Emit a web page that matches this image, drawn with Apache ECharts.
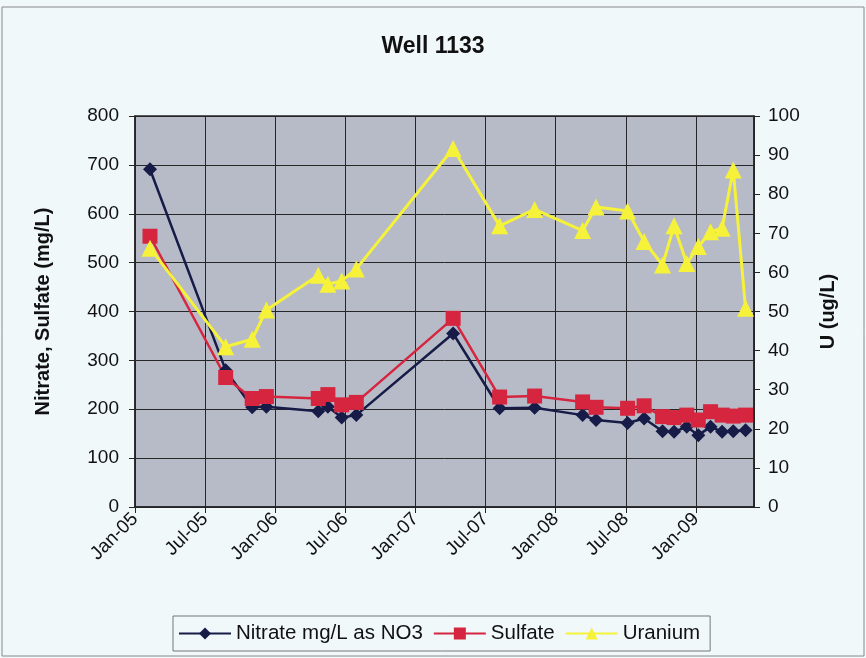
<!DOCTYPE html>
<html>
<head>
<meta charset="utf-8">
<script src="https://cdn.jsdelivr.net/npm/echarts@6/dist/echarts.min.js"></script>
<style>
  html, body { margin: 0; padding: 0; background: #f1f8fa; }
  #chart { width: 866px; height: 658px; }
</style>
</head>
<body>
<div id="chart"></div>
<script>
// Sampling dates for Well 1133
const sampleDates = [
  '2005-02-09', '2005-08-25', '2005-11-02', '2005-12-09', '2006-04-23',
  '2006-05-18', '2006-06-23', '2006-07-31', '2007-04-09', '2007-08-08',
  '2007-11-07', '2008-03-11', '2008-04-15', '2008-07-06', '2008-08-18',
  '2008-10-05', '2008-11-04', '2008-12-07', '2009-01-06', '2009-02-07',
  '2009-03-09', '2009-04-07', '2009-05-09'
];
// Nitrate, mg/L as NO3
const nitrate = [
  691, 280, 204, 205, 196, 205, 183, 188, 355, 202,
  203, 188, 178, 172, 181, 155, 154, 164, 147, 164,
  154, 155, 157
];
// Sulfate, mg/L
const sulfate = [
  554, 265, 222, 226, 222, 230, 209, 214, 386, 225,
  227, 215, 204, 202, 207, 185, 183, 188, 178, 195,
  188, 186, 188
];
// Uranium, ug/L (right axis)
const uranium = [
  66.2, 41.0, 42.9, 50.4, 59.3, 57.0, 57.8, 60.9, 91.7, 71.9,
  76.1, 70.7, 76.7, 75.7, 67.9, 61.9, 71.9, 62.3, 66.6, 70.4,
  71.3, 86.2, 50.8
];
const MONTHS = ['Jan','Feb','Mar','Apr','May','Jun','Jul','Aug','Sep','Oct','Nov','Dec'];
const axisStartDate = '2005-01-01';
const axisEndDate = '2009-05-31';

// The date axis is a value axis in days since the start date, ticked every half year
const DAY = 86400000;
const origin = Date.parse(axisStartDate + 'T00:00:00Z');
const toDay = s => (Date.parse(s + 'T00:00:00Z') - origin) / DAY;
const pairs = vals => sampleDates.map((d, i) => [toDay(d), vals[i]]);
const dateLabel = v => {
  const d = new Date(origin + (v + 15) * DAY);
  return MONTHS[d.getUTCMonth()] + '-' + String(d.getUTCFullYear() % 100).padStart(2, '0');
};

const FONT = 'Liberation Sans, Arial, Helvetica, sans-serif';
const INK = '#111';
const GRID = '#262626';

const chart = echarts.init(document.getElementById('chart'), null, { renderer: 'canvas' });
chart.setOption({
  backgroundColor: '#f1f8fa',
  animation: false,
  textStyle: { fontFamily: FONT, color: INK },
  title: {
    text: 'Well 1133',
    left: 'center',
    top: 30,
    textStyle: { fontFamily: FONT, fontSize: 23, fontWeight: 'bold', color: INK }
  },
  graphic: [{
    type: 'rect',
    shape: { x: 2, y: 7, width: 862, height: 649 },
    style: { fill: 'none', stroke: '#8a8a8a', lineWidth: 1 },
    silent: true
  }],
  grid: {
    left: 135, right: 112, top: 116, bottom: 151,
    show: true,
    backgroundColor: '#b7bbc7',
    borderColor: GRID,
    borderWidth: 1.5
  },
  legend: {
    left: 173,
    top: 616,
    padding: [7, 10, 7, 5],
    borderColor: '#777',
    borderWidth: 1,
    itemWidth: 52,
    itemHeight: 15,
    itemGap: 10,
    textStyle: { fontFamily: FONT, fontSize: 20.5, color: INK },
    data: ['Nitrate mg/L as NO3', 'Sulfate', 'Uranium']
  },
  xAxis: {
    type: 'value',
    min: 0,
    max: toDay(axisEndDate),
    interval: 182.5,
    axisLine: { show: true, lineStyle: { color: GRID, width: 1.5 } },
    axisTick: { show: true, length: 6, lineStyle: { color: GRID } },
    splitLine: { show: true, lineStyle: { color: GRID, width: 1 } },
    axisLabel: {
      rotate: 45,
      margin: 9,
      fontSize: 19,
      color: INK,
      fontFamily: FONT,
      showMaxLabel: false,
      formatter: dateLabel
    }
  },
  yAxis: [{
    type: 'value',
    min: 0, max: 800, interval: 100,
    name: 'Nitrate, Sulfate (mg/L)',
    nameLocation: 'middle',
    nameRotate: 90,
    nameGap: 82,
    nameTextStyle: { fontFamily: FONT, fontSize: 20, fontWeight: 'bold', color: INK },
    axisLine: { show: true, lineStyle: { color: GRID, width: 1.5 } },
    axisTick: { show: true, length: 6, lineStyle: { color: GRID } },
    splitLine: { show: true, lineStyle: { color: GRID, width: 1 } },
    axisLabel: { fontSize: 19, color: INK, fontFamily: FONT, margin: 16 }
  }, {
    type: 'value',
    position: 'right',
    min: 0, max: 100, interval: 10,
    name: 'U (ug/L)',
    nameLocation: 'middle',
    nameRotate: 90,
    nameGap: 64,
    nameTextStyle: { fontFamily: FONT, fontSize: 20, fontWeight: 'bold', color: INK },
    axisLine: { show: true, lineStyle: { color: GRID, width: 1.5 } },
    axisTick: { show: true, length: 6, lineStyle: { color: GRID } },
    splitLine: { show: false },
    axisLabel: { fontSize: 19, color: INK, fontFamily: FONT, margin: 14 }
  }],
  series: [{
    name: 'Nitrate mg/L as NO3',
    type: 'line',
    yAxisIndex: 0,
    data: pairs(nitrate),
    symbol: 'diamond',
    symbolSize: 14,
    lineStyle: { color: '#161b47', width: 2.5 },
    itemStyle: { color: '#161b47' }
  }, {
    name: 'Sulfate',
    type: 'line',
    yAxisIndex: 0,
    data: pairs(sulfate),
    symbol: 'rect',
    symbolSize: 15,
    lineStyle: { color: '#d6253f', width: 2.5 },
    itemStyle: { color: '#d6253f' }
  }, {
    name: 'Uranium',
    type: 'line',
    yAxisIndex: 1,
    data: pairs(uranium),
    symbol: 'triangle',
    symbolSize: 17,
    lineStyle: { color: '#f6f23a', width: 3 },
    itemStyle: { color: '#f6f23a' }
  }]
});
</script>
</body>
</html>
